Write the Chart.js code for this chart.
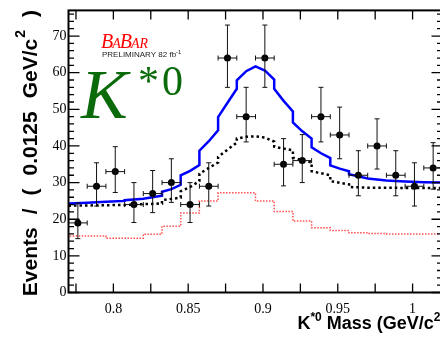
<!DOCTYPE html>
<html><head><meta charset="utf-8">
<script src="https://cdn.jsdelivr.net/npm/chart.js@4.4.1/dist/chart.umd.min.js"></script>
<style>
html,body{margin:0;padding:0;overflow:hidden;background:#fff;width:440px;height:342px}
canvas{display:block}
</style></head>
<body>
<canvas id="c" width="446" height="342" style="width:446px;height:342px"></canvas>
<script>
// ---- data ----
const binCenters = [0.77625,0.78875,0.80125,0.81375,0.82625,0.83875,0.85125,0.86375,0.87625,0.88875,
                    0.90125,0.91375,0.92625,0.93875,0.95125,0.96375,0.97625,0.98875,1.00125,1.01375];
const counts     = [19,29,33,24,27,30,24,29,64,48,64,35,36,48,43,32,40,32,29,34];
const errLow     = [4.3,5.4,5.7,4.9,5.2,5.4,4.9,5.4,8.0,6.9,8.0,5.9,6.0,6.9,6.5,5.6,6.3,5.6,5.4,5.8];
const errHigh    = [5.4,6.4,6.8,6.0,6.3,6.5,6.0,6.4,9.0,8.0,9.0,7.0,7.1,8.0,7.6,6.7,7.4,6.7,6.4,6.9];
const binHalfWidth = 0.00625;

// total fit (blue solid)
const totalX = [0.77,0.7825,0.795,0.8075,0.8075,0.82,0.8325,0.8325,0.8388,0.845,0.845,0.8513,0.8575,0.8575,0.8638,0.87,
                0.87,0.8763,0.8825,0.8825,0.8888,0.895,0.9013,0.9075,0.9075,0.9138,0.92,0.92,0.9263,0.9325,0.9325,0.9388,0.945,
                0.945,0.9513,0.9575,0.9575,0.97,0.9825,0.995,1.0075,1.02];
const totalY = [24.3,24.5,24.75,25.0,25.2,25.6,26.4,27.5,28.2,29.4,32.0,33.2,34.8,38.7,41.3,44.3,
                47.9,51.8,55.6,57.9,60.4,61.7,60.6,58.1,55.6,52.3,49.4,46.4,44.0,42.0,39.6,38.0,36.7,
                34.7,33.8,33.1,32.3,31.1,30.6,30.3,30.1,30.0];

// second component (black dotted)
const compX = [0.77,0.8075,0.8325,0.8325,0.845,0.845,0.8513,0.8575,0.8575,0.8638,0.87,0.87,0.8763,0.8825,
               0.8825,0.8888,0.895,0.9013,0.9075,0.9075,0.92,0.92,0.9325,0.9325,0.945,0.945,0.9575,0.9575,0.97,1.02];
const compY = [23.7,23.9,24.3,25.2,25.9,27.6,28.8,30.4,32.4,34.0,35.5,37.0,39.0,40.9,
               42.0,42.5,42.6,42.3,41.2,39.8,38.8,36.8,35.5,33.1,32.0,30.4,29.5,28.8,28.6,28.5];

// third component (red dotted, flat per bin)
const binEdges = [0.77,0.7825,0.795,0.8075,0.82,0.8325,0.845,0.8575,0.87,0.8825,0.895,
                  0.9075,0.92,0.9325,0.945,0.9575,0.97,0.9825,0.995,1.0075,1.02];
const redValues = [14.9,15.4,15.4,14.8,14.8,15.9,18.1,21.7,25.0,27.2,27.2,25.0,22.1,19.5,17.7,16.9,16.3,16.1,16.0,16.0];

// axes
const xTickValues  = [0.775,0.8,0.825,0.85,0.875,0.9,0.925,0.95,0.975,1.0];
const xLabelValues = [0.8,0.85,0.9,0.95,1.0];
const xLabelTexts  = ['0.8','0.85','0.9','0.95','1'];
const yMajorTicks  = [0,10,20,30,40,50,60,70];
const yMinorTicks  = [2,4,6,8,12,14,16,18,22,24,26,28,32,34,36,38,42,44,46,48,52,54,56,58,62,64,66,68,72,74,76];
const xMin = 0.77, xMax = 1.02, yMin = 0, yMax = 77;

// ---- build datasets ----
const pts = binCenters.map((x,i)=>({x:x,y:counts[i]}));
const totalPts = totalX.map((x,i)=>({x:x,y:totalY[i]}));
const compPts = compX.map((x,i)=>({x:x,y:compY[i]}));
const redPts = binEdges.map((x,i)=>({x:x,y:redValues[Math.min(i,redValues.length-1)]}));

const SANS = '"Liberation Sans", Arial, sans-serif';
const SERIF = '"Liberation Serif", "Times New Roman", serif';

const framePlugin = {
  id:'frame',
  afterDatasetsDraw(chart){
    const ctx = chart.ctx, xs = chart.scales.x, ys = chart.scales.y;
    ctx.save();
    ctx.strokeStyle = '#111'; ctx.lineWidth = 1;
    const cap = 2.5;
    binCenters.forEach((c,i)=>{
      const px = xs.getPixelForValue(c);
      const py = ys.getPixelForValue(counts[i]);
      const x0 = xs.getPixelForValue(c-binHalfWidth), x1 = xs.getPixelForValue(c+binHalfWidth);
      const yt = ys.getPixelForValue(counts[i]+errHigh[i]), yb = ys.getPixelForValue(counts[i]-errLow[i]);
      ctx.beginPath();
      ctx.moveTo(x0,py); ctx.lineTo(x1,py);
      ctx.moveTo(x0,py-cap); ctx.lineTo(x0,py+cap);
      ctx.moveTo(x1,py-cap); ctx.lineTo(x1,py+cap);
      ctx.moveTo(px,yt); ctx.lineTo(px,yb);
      ctx.moveTo(px-cap,yt); ctx.lineTo(px+cap,yt);
      ctx.moveTo(px-cap,yb); ctx.lineTo(px+cap,yb);
      ctx.stroke();
    });
    ctx.restore();
  },
  afterDraw(chart){
    const ctx = chart.ctx, a = chart.chartArea, xs = chart.scales.x, ys = chart.scales.y;
    ctx.save();
    ctx.strokeStyle = '#000';
    ctx.lineWidth = 1.3;
    ctx.beginPath();
    xTickValues.forEach(v=>{
      const p = xs.getPixelForValue(v);
      ctx.moveTo(p,a.bottom); ctx.lineTo(p,a.bottom-9);
      ctx.moveTo(p,a.top); ctx.lineTo(p,a.top+9);
    });
    yMajorTicks.forEach(v=>{
      const p = ys.getPixelForValue(v);
      ctx.moveTo(a.left,p); ctx.lineTo(a.left+11,p);
      ctx.moveTo(a.right,p); ctx.lineTo(a.right-11,p);
    });
    yMinorTicks.forEach(v=>{
      const p = ys.getPixelForValue(v);
      ctx.moveTo(a.left,p); ctx.lineTo(a.left+5.5,p);
      ctx.moveTo(a.right,p); ctx.lineTo(a.right-5.5,p);
    });
    ctx.stroke();
    ctx.lineWidth = 2;
    ctx.strokeRect(a.left,a.top,a.right-a.left,a.bottom-a.top);

    function rich(parts,x,y){
      let cx = x;
      parts.forEach(p=>{
        ctx.font = p.f;
        ctx.fillText(p.t,cx,y+(p.dy||0));
        cx += ctx.measureText(p.t).width + (p.sp||0);
      });
      return cx - x;
    }
    function richWidth(parts){
      let w = 0;
      parts.forEach(p=>{ ctx.font = p.f; w += ctx.measureText(p.t).width + (p.sp||0); });
      return w;
    }
    ctx.textBaseline = 'alphabetic';
    ctx.textAlign = 'left';
    ctx.fillStyle = '#000';

    // y axis title
    const YF = 'bold 21px ' + SANS, YS = 'bold 14px ' + SANS, gap = 13;
    const yParts = [
      {t:'Events', f:YF, sp:gap},
      {t:'/', f:YF, sp:gap},
      {t:'(', f:YF, sp:gap},
      {t:'0.0125', f:YF, sp:gap},
      {t:'GeV/c', f:YF, sp:1},
      {t:'2', f:YS, dy:-12, sp:gap},
      {t:')', f:YF}
    ];
    const yw = richWidth(yParts);
    ctx.save();
    ctx.translate(37, 10 + yw);
    ctx.rotate(-Math.PI/2);
    rich(yParts,0,0);
    ctx.restore();

    // x axis title (right aligned at axis end)
    const xParts = [
      {t:'K', f:'bold 18px ' + SANS},
      {t:'*0', f:'bold 12px ' + SANS, dy:-8},
      {t:' Mass (GeV/c', f:'bold 18px ' + SANS},
      {t:'2', f:'bold 12px ' + SANS, dy:-8, sp:2},
      {t:')', f:'bold 18px ' + SANS}
    ];
    const xw = richWidth(xParts);
    rich(xParts, a.right + 6 - xw, 329);

    // BABAR logo
    ctx.fillStyle = '#ff0000';
    rich([
      {t:'B', f:'italic 20px ' + SERIF, sp:-1},
      {t:'A', f:'italic 14px ' + SERIF, sp:-1},
      {t:'B', f:'italic 20px ' + SERIF, sp:-1},
      {t:'AR', f:'italic 14px ' + SERIF}
    ], 101, 48);
    ctx.fillStyle = '#222';
    rich([
      {t:'PRELIMINARY 82 fb', f:'8px ' + SANS},
      {t:'-1', f:'6px ' + SANS, dy:-3}
    ], 102, 57);

    // K*0
    ctx.fillStyle = '#0b6b0b';
    ctx.font = 'italic 70px ' + SERIF;
    ctx.fillText('K', 81, 118);
    ctx.font = '42px ' + SERIF;
    ctx.fillText('*', 138, 95);
    ctx.fillText('0', 162, 95);
    ctx.restore();
  }
};

new Chart(document.getElementById('c'), {
  data:{
    datasets:[
      {type:'scatter', data:pts, pointRadius:3.5, pointHoverRadius:3.5, pointBackgroundColor:'#000', pointBorderColor:'#000', pointBorderWidth:0},
      {type:'line', data:totalPts, borderColor:'#0000ff', borderWidth:2.5, pointRadius:0, tension:0, fill:false},
      {type:'line', data:compPts, borderColor:'#000', borderWidth:2.5, borderDash:[2.5,3], pointRadius:0, tension:0, fill:false},
      {type:'line', data:redPts, borderColor:'#ff4f4f', borderWidth:1.5, borderDash:[1.5,1.5], pointRadius:0, stepped:'after', fill:false}
    ]
  },
  options:{
    responsive:false, animation:false, devicePixelRatio:1,
    layout:{padding:{top:10,right:1.5,left:0,bottom:0}},
    plugins:{legend:{display:false}, tooltip:{enabled:false}, title:{display:false}},
    events:[],
    scales:{
      x:{type:'linear', min:xMin, max:xMax,
         grid:{display:false, drawTicks:false}, border:{display:false},
         afterBuildTicks(s){ s.ticks = xTickValues.map(v=>({value:v})); },
         afterFit(s){ s.height = 49.5; },
         ticks:{padding:8, color:'#000', maxRotation:0, autoSkip:false,
                font:{family:SERIF, size:14},
                callback(v){ const i = xLabelValues.findIndex(l=>Math.abs(l-v)<1e-6); return i>=0 ? xLabelTexts[i] : ''; }}},
      y:{type:'linear', min:yMin, max:yMax,
         grid:{display:false, drawTicks:false}, border:{display:false},
         afterBuildTicks(s){ s.ticks = yMajorTicks.map(v=>({value:v})); },
         afterFit(s){ s.width = 68.5; },
         ticks:{padding:2, color:'#000', autoSkip:false,
                font:{family:SERIF, size:14},
                callback(v){ return String(v); }}}
    }
  },
  plugins:[framePlugin]
});
</script>
</body></html>
